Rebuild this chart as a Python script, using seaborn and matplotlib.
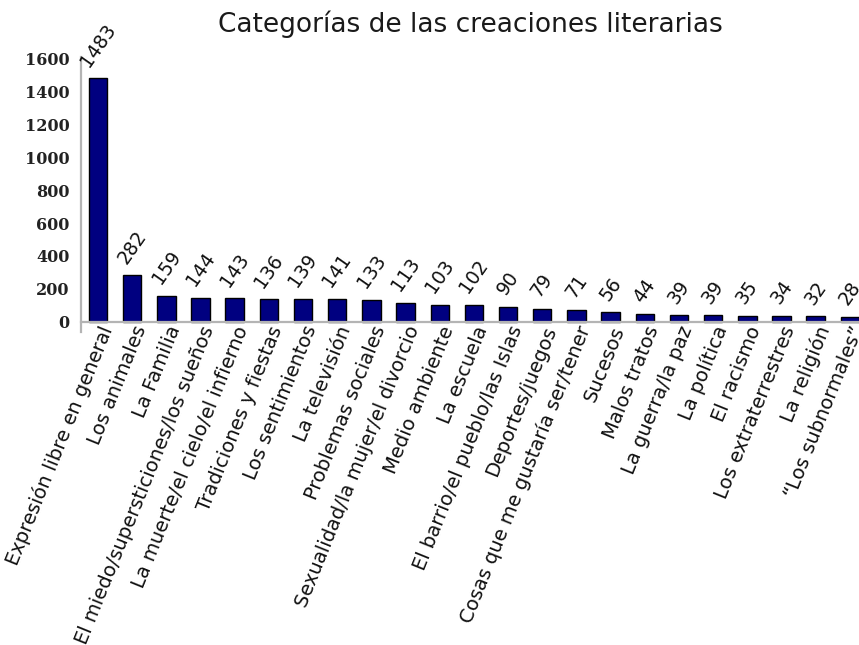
import matplotlib
matplotlib.use("Agg")
import matplotlib.pyplot as plt
import numpy as np
import pandas as pd
import seaborn as sns

categories = [
    "Expresión libre en general",
    "Los animales",
    "La Familia",
    "El miedo/supersticiones/los sueños",
    "La muerte/el cielo/el infierno",
    "Tradiciones y fiestas",
    "Los sentimientos",
    "La televisión",
    "Problemas sociales",
    "Sexualidad/la mujer/el divorcio",
    "Medio ambiente",
    "La escuela",
    "El barrio/el pueblo/las Islas",
    "Deportes/juegos",
    "Cosas que me gustaría ser/tener",
    "Sucesos",
    "Malos tratos",
    "La guerra/la paz",
    "La política",
    "El racismo",
    "Los extraterrestres",
    "La religión",
    "“Los subnormales”",
]
values = [1483, 282, 159, 144, 143, 136, 139, 141, 133, 113, 103, 102,
          90, 79, 71, 56, 44, 39, 39, 35, 34, 32, 28]
yticks = [0, 200, 400, 600, 800, 1000, 1200, 1400, 1600]

sns.set_style("white")
plt.rcParams["font.family"] = ["DejaVu Sans"]

df = pd.DataFrame({"cat": categories, "n": values})

fig = plt.figure(figsize=(8.59, 6.45), dpi=100)
ax = fig.add_axes([0.0942, 0.486, 0.915, 0.4264])

sns.barplot(data=df, x="cat", y="n", color="#000080", saturation=1,
            width=0.54, edgecolor="black", linewidth=1.0, ax=ax)

# value labels above each bar
for i, v in enumerate(values):
    ax.annotate(str(v), (i, v), xytext=(0, 6), textcoords="offset points",
                rotation=55, ha="center", va="bottom", fontsize=13.5,
                color="#111111", annotation_clip=False)

ax.set_xlim(-0.5, len(categories) - 0.5)
ax.set_ylim(-60, 1615)
ax.spines["bottom"].set_position(("data", 0))
for s in ["top", "right"]:
    ax.spines[s].set_visible(False)
for s in ["left", "bottom"]:
    ax.spines[s].set_color("#b4b4b4")
    ax.spines[s].set_linewidth(1.6)

ax.set_yticks(yticks)
ax.set_yticklabels([str(t) for t in yticks], fontsize=11.5,
                   fontweight="bold", family="DejaVu Serif", color="#222222")
ax.tick_params(axis="y", length=6, width=1.6, color="#b4b4b4", pad=2, direction="out")

ax.set_xticks(range(len(categories)))
ax.set_xticklabels(categories, rotation=68, ha="right", rotation_mode="anchor",
                   fontsize=14, color="#111111")
ax.tick_params(axis="x", which="major", length=0, pad=1)
ax.set_xticks(np.arange(0.5, len(categories) - 0.5, 1), minor=True)
ax.tick_params(axis="x", which="minor", length=14, width=1.6, color="#b4b4b4",
               direction="inout")
ax.set_xlabel("")
ax.set_ylabel("")

fig.text(0.548, 0.962, "Categorías de las creaciones literarias", ha="center",
         va="center", fontsize=19, color="#1a1a1a")

fig.savefig("out.png", dpi=100)
